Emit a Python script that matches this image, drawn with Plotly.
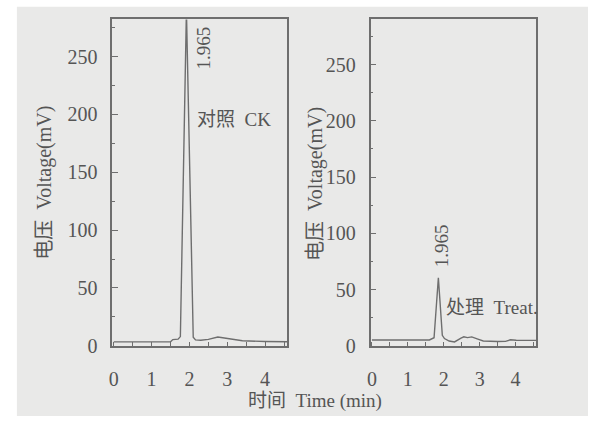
import plotly.graph_objects as go

# ---- data ----
ck_time = [0.00, 1.50, 1.56, 1.62, 1.70, 1.76, 1.92, 2.10, 2.16, 2.30, 2.50, 2.75, 3.00, 3.40, 4.00, 4.60]
ck_mv = [3.4, 3.6, 5.4, 5.6, 5.8, 8.0, 290.0, 7.5, 5.2, 4.8, 5.6, 7.6, 6.2, 4.4, 3.8, 3.6]

treat_time = [0.00, 1.60, 1.73, 1.85, 1.96, 2.02, 2.15, 2.30, 2.48, 2.56, 2.66, 2.78, 2.95, 3.10, 3.50, 3.72, 3.86, 4.02, 4.60]
treat_mv = [5.2, 5.2, 7.2, 60.5, 9.3, 6.5, 4.3, 3.5, 6.8, 8.0, 7.3, 8.0, 6.0, 4.3, 3.9, 4.0, 5.4, 5.0, 4.9]

x_ticks = [0, 1, 2, 3, 4]
y_ticks = [0, 50, 100, 150, 200, 250]

peak_label = "1.965"
ck_label = "对照  CK"
treat_label = "处理  Treat."
y_title = "电压  Voltage(mV)"
x_title = "时间  Time (min)"

LINE = "#6e6e6e"
TEXT = "#555555"
BG = "#e9e9e8"
FONT = "'Liberation Serif', 'Noto Sans CJK SC', serif"

fig = go.Figure()
fig.add_trace(go.Scatter(x=ck_time, y=ck_mv, mode="lines", line=dict(color=LINE, width=1.4),
                         xaxis="x", yaxis="y", showlegend=False))
fig.add_trace(go.Scatter(x=treat_time, y=treat_mv, mode="lines", line=dict(color=LINE, width=1.4),
                         xaxis="x2", yaxis="y2", showlegend=False))

W, H = 592, 427


def px_dom(a, b, total):
    return [a / total, b / total]


xcommon = dict(range=[-0.04, 4.58], tickvals=x_ticks, ticks="inside", ticklen=4, tickwidth=1.2,
               tickcolor=LINE, showline=True, linecolor=LINE, linewidth=1.5, mirror=True,
               showgrid=False, zeroline=False, ticklabelstandoff=14,
               minor=dict(dtick=0.5, tick0=0, ticks="inside", ticklen=4, tickwidth=1.2, tickcolor=LINE, showgrid=False),
               tickfont=dict(family=FONT, size=20, color=TEXT))
ycommon = dict(tickvals=y_ticks, ticks="inside", ticklen=6, tickwidth=1.2, tickcolor=LINE,
               showline=True, linecolor=LINE, linewidth=1.5, mirror=True, showgrid=False, zeroline=False,
               ticklabelstandoff=9,
               minor=dict(dtick=25, tick0=0, ticks="inside", ticklen=3, tickwidth=1.2, tickcolor=LINE, showgrid=False),
               tickfont=dict(family=FONT, size=20, color=TEXT))

ydom = [1 - 355 / H, 1 - 20 / H]

fig.update_layout(
    width=W, height=H,
    margin=dict(l=0, r=0, t=0, b=0),
    paper_bgcolor="white", plot_bgcolor=BG,
    xaxis=dict(domain=px_dom(109, 285, W), anchor="y", **xcommon),
    yaxis=dict(domain=ydom, anchor="x", range=[0, 282],
               title=dict(text=y_title, standoff=11, font=dict(family=FONT, size=20, color=TEXT)), **ycommon),
    xaxis2=dict(domain=px_dom(369, 536, W), anchor="y2", **xcommon),
    yaxis2=dict(domain=ydom, anchor="x2", range=[0, 290], **ycommon),
    shapes=[dict(type="rect", xref="paper", yref="paper", x0=13 / W, x1=588 / W, y0=0, y1=1 - 7 / H,
                 fillcolor=BG, line=dict(width=0), layer="below")],
    annotations=[
        dict(text=peak_label, x=2.36, y=257, xref="x", yref="y", showarrow=False, textangle=-90,
             font=dict(family=FONT, size=19, color=TEXT)),
        dict(text=ck_label, x=3.17, y=196, xref="x", yref="y", showarrow=False,
             font=dict(family=FONT, size=19, color=TEXT)),
        dict(text=peak_label, x=1.94, y=89, xref="x2", yref="y2", showarrow=False, textangle=-90,
             font=dict(family=FONT, size=19, color=TEXT)),
        dict(text=treat_label, x=3.34, y=34, xref="x2", yref="y2", showarrow=False,
             font=dict(family=FONT, size=19, color=TEXT)),
        dict(text=y_title, x=313 / W, y=1 - 189 / H, xref="paper", yref="paper", showarrow=False,
             textangle=-90, xanchor="center", yanchor="middle",
             font=dict(family=FONT, size=20, color=TEXT)),
        dict(text=x_title, x=313 / W, y=1 - 412 / H, xref="paper", yref="paper", showarrow=False,
             xanchor="center", yanchor="middle",
             font=dict(family=FONT, size=19, color=TEXT)),
    ],
)

fig.write_html("out.html")
